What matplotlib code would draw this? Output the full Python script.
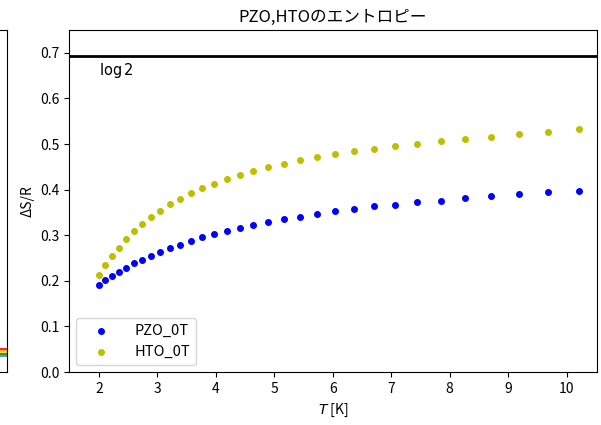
import numpy as np
import matplotlib
matplotlib.use("Agg")
import matplotlib.pyplot as plt

plt.rcParams['font.family'] = ['Noto Sans CJK JP', 'DejaVu Sans']

# temperatures [K]
T = [2.00, 2.11, 2.23, 2.35, 2.47, 2.61, 2.74, 2.89, 3.05, 3.21, 3.39,
     3.57, 3.76, 3.97, 4.19, 4.41, 4.64, 4.89, 5.16, 5.44, 5.73, 6.04,
     6.37, 6.71, 7.07, 7.45, 7.85, 8.27, 8.71, 9.18, 9.68, 10.21]

# entropy dS/R
pzo_0T = [0.191, 0.201, 0.210, 0.220, 0.229, 0.238, 0.246, 0.255, 0.263,
          0.271, 0.279, 0.288, 0.295, 0.303, 0.310, 0.316, 0.322, 0.330,
          0.336, 0.341, 0.347, 0.352, 0.358, 0.363, 0.367, 0.372, 0.376,
          0.381, 0.385, 0.390, 0.394, 0.398]
hto_0T = [0.213, 0.235, 0.255, 0.273, 0.292, 0.309, 0.325, 0.340, 0.354,
          0.368, 0.380, 0.392, 0.403, 0.413, 0.424, 0.433, 0.441, 0.450,
          0.457, 0.464, 0.471, 0.478, 0.484, 0.489, 0.495, 0.501, 0.506,
          0.511, 0.516, 0.521, 0.527, 0.532]

# leftover panel on the left (only its right edge is visible)
left_levels = [0.050, 0.047, 0.043, 0.039, 0.035]
left_colors = ['red', 'orange', 'gold', 'green', 'steelblue']

fig = plt.figure(figsize=(6.01, 4.25), dpi=100)

# cut-off neighbour panel
axl = fig.add_axes([-0.5, 0.1247, 0.5117, 0.8047])
for lv, c in zip(left_levels, left_colors):
    axl.plot([0, 1], [lv, lv], color=c, lw=1.2)
axl.set_xlim(0, 1)
axl.set_ylim(0, 0.75)
axl.set_xticks([])
axl.set_yticks([])

ax = fig.add_axes([0.1148, 0.1247, 0.8785, 0.8047])
ax.scatter(T, pzo_0T, s=16, color='b', label='PZO_0T')
ax.scatter(T, hto_0T, s=16, color='y', label='HTO_0T')
ax.axhline(np.log(2), color='k', lw=2)
ax.text(2.0, 0.652, r'$\log 2$', fontsize=10.5)

ax.set_xlim(1.49, 10.52)
ax.set_ylim(0, 0.75)
ax.set_xticks(range(2, 11))
ax.set_title('PZO,HTOのエントロピー')
ax.set_xlabel('$T$ [K]')
ax.set_ylabel('ΔS/R')
ax.legend(loc='lower left', handlelength=2.6, handletextpad=1.0,
          fontsize=10.5)

fig.savefig('out.png', dpi=100)
